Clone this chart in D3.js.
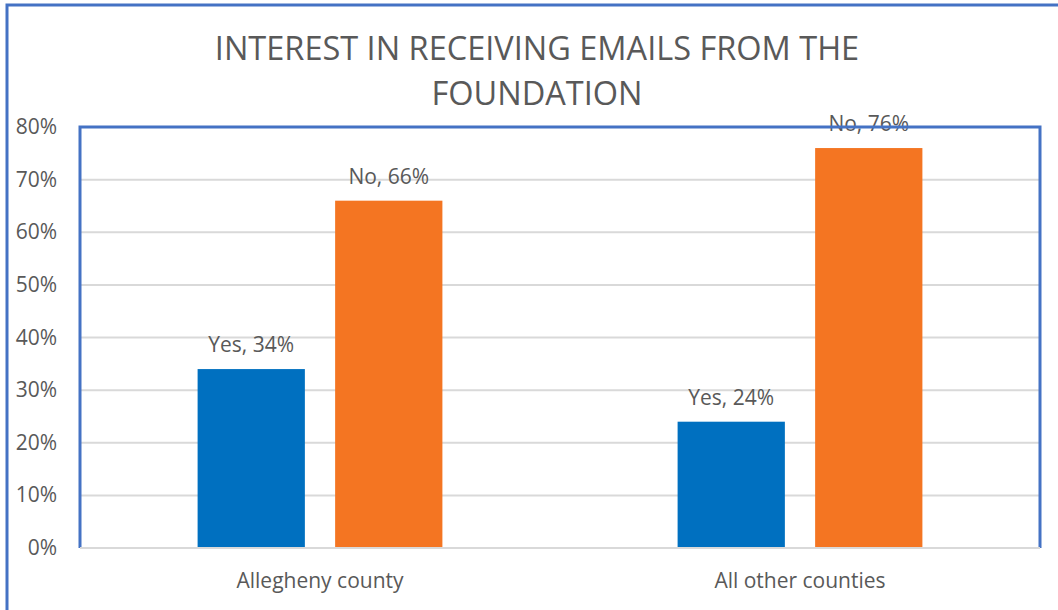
<!DOCTYPE html>
<html>
<head>
<meta charset="utf-8">
<script src="https://cdn.jsdelivr.net/npm/d3@7"></script>
<style>
  body { margin: 0; background: #fff; }
  text { font-family: "Open Sans", sans-serif; fill: #595959; }
</style>
</head>
<body>
<div id="chart"></div>
<script>
// chart data
const categories = ["Allegheny county", "All other counties"];
const seriesNames = ["Yes", "No"];
const yesValues = [34, 24];
const noValues = [66, 76];
const yTicks = [0, 10, 20, 30, 40, 50, 60, 70, 80];
const titleLines = ["INTEREST IN RECEIVING EMAILS FROM THE", "FOUNDATION"];

const colors = { Yes: "#0070C0", No: "#F47522" };

var width = 1058, height = 610;
var margin = { top: 127, right: 18, bottom: 61, left: 80 };

var svg = d3.select("#chart")
  .append("svg")
  .attr("width", width)
  .attr("height", height);

// outer chart border (runs off right/bottom)
svg.append("rect")
  .attr("x", 7)
  .attr("y", 5)
  .attr("width", width + 10)
  .attr("height", height + 10)
  .attr("fill", "none")
  .attr("stroke", "#4472C4")
  .attr("stroke-width", 3);

var x0 = d3.scaleBand()
  .domain(categories)
  .range([margin.left, width - margin.right])
  .paddingInner(0.49)
  .paddingOuter(0.245);

var x1 = d3.scaleBand()
  .domain(seriesNames)
  .range([0, x0.bandwidth()])
  .paddingInner(0.22);

var y = d3.scaleLinear()
  .domain([0, 80])
  .range([height - margin.bottom - 1, margin.top]);

// gridlines
svg.append("g")
  .selectAll("line")
  .data(yTicks.slice(1))
  .enter()
  .append("line")
  .attr("x1", margin.left)
  .attr("x2", width - margin.right)
  .attr("y1", d => y(d))
  .attr("y2", d => y(d))
  .attr("stroke", "#d9d9d9")
  .attr("stroke-width", 2);

// y tick labels
svg.append("g")
  .selectAll("text")
  .data(yTicks)
  .enter()
  .append("text")
  .attr("x", 57)
  .attr("y", d => y(d) + 7)
  .attr("text-anchor", "end")
  .attr("font-size", 21)
  .text(d => d + "%");

var rows = categories.map((c, i) => ({
  category: c,
  values: [
    { name: "Yes", value: yesValues[i] },
    { name: "No", value: noValues[i] }
  ]
}));

var group = svg.selectAll(".group")
  .data(rows)
  .enter()
  .append("g")
  .attr("class", "group")
  .attr("transform", d => "translate(" + x0(d.category) + ",0)");

group.selectAll("rect")
  .data(d => d.values)
  .enter()
  .append("rect")
  .attr("x", d => x1(d.name))
  .attr("y", d => y(d.value))
  .attr("width", x1.bandwidth())
  .attr("height", d => y(0) - y(d.value))
  .attr("fill", d => colors[d.name]);

// plot area border: blue left/top/right, grey baseline
var plotL = margin.left, plotR = width - margin.right, plotT = margin.top, plotB = y(0);
svg.append("path")
  .attr("d", "M" + plotL + "," + plotB + "V" + plotT + "H" + plotR + "V" + plotB)
  .attr("fill", "none")
  .attr("stroke", "#4472C4")
  .attr("stroke-width", 3);

svg.append("line")
  .attr("x1", plotL)
  .attr("x2", plotR)
  .attr("y1", plotB)
  .attr("y2", plotB)
  .attr("stroke", "#d9d9d9")
  .attr("stroke-width", 2);

// data labels
group.selectAll(".label")
  .data(d => d.values)
  .enter()
  .append("text")
  .attr("class", "label")
  .attr("x", d => x1(d.name) + x1.bandwidth() / 2)
  .attr("y", d => y(d.value) - 17)
  .attr("text-anchor", "middle")
  .attr("font-size", 21)
  .text(d => d.name + ", " + d.value + "%");

// category labels
svg.append("g")
  .selectAll("text")
  .data(categories)
  .enter()
  .append("text")
  .attr("x", d => x0(d) + x0.bandwidth() / 2)
  .attr("y", 588)
  .attr("text-anchor", "middle")
  .attr("font-size", 21)
  .text(d => d);

// title
svg.append("g")
  .selectAll("text")
  .data(titleLines)
  .enter()
  .append("text")
  .attr("x", (plotL + plotR) / 2 - 23)
  .attr("y", (d, i) => 60 + i * 45)
  .attr("text-anchor", "middle")
  .attr("font-size", 32.5)
  .text(d => d);
</script>
</body>
</html>
